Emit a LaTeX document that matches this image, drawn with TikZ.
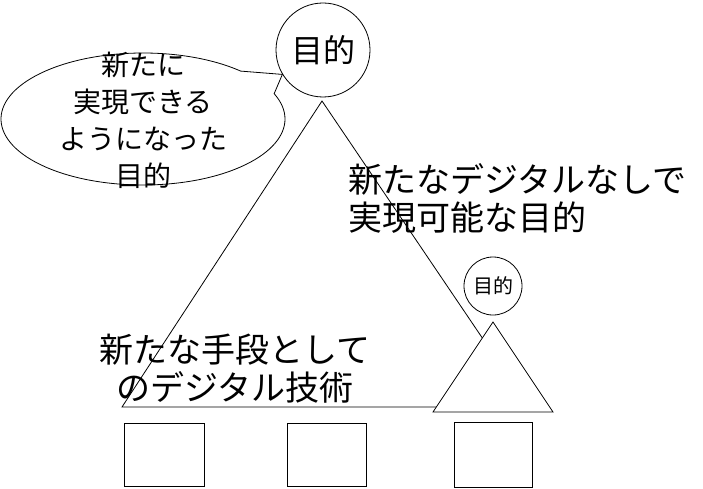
\documentclass[tikz,border=0pt]{standalone}
\usepackage{fontspec}
\setmainfont{Noto Sans CJK JP}
\usetikzlibrary{shapes.callouts}
\tikzset{>=latex}
\tikzset{
  thin line/.style={line width=.8pt},
  big text/.style={font=\fontsize{34}{38}\selectfont, inner sep=0pt},
  box/.style={draw, thin line, minimum width=80, minimum height=63, inner sep=0pt}
}

\begin{document}
\begin{tikzpicture}[x=1pt,y=-1pt]
                \useasboundingbox (0,0) rectangle (703,489);
                % big triangle
                \coordinate (top) at (322,101);
                \coordinate (left) at (122,407);
                \coordinate (right) at (529,407);
                \draw[thin line] (left) -- (top) -- (right) -- cycle;
                % small triangle
                \coordinate (stop) at (493,322);
                \coordinate (sleft) at (433,412);
                \coordinate (sright) at (553,412);
                \draw[thin line, fill=white] (sleft) -- (stop) -- (sright) -- cycle;
                \node[draw, thin line, circle, minimum size=94, inner sep=0pt,
                  font=\fontsize{32}{36}\selectfont] (goal) at (323,50) {目的};
                \node[draw, thin line, circle, minimum size=58, inner sep=0pt,
                  font=\fontsize{20}{24}\selectfont] (smallgoal) at (493,286) {目的};
                \node[draw, thin line, ellipse callout, minimum width=284, minimum height=132,
                  callout absolute pointer={(goal.211)}, callout pointer arc=24] (bubble) at (143,119) {};
                \node[align=center, inner sep=0pt, font=\fontsize{28}{37}\selectfont]
                  (bubbletext) at (143,120) {新たに\\実現できる\\ようになった\\目的};
                \node[big text, align=left, anchor=west] (purpose) at (348,198)
                  {新たなデジタルなしで\\実現可能な目的};
                \node[big text, align=center] (means) at (235,369)
                  {新たな手段として\\のデジタル技術};
                \node[box] (box1) at (164,454.5) {};
                \node[box, minimum width=79] (box2) at (326.5,454.5) {};
                \node[box, minimum width=78, minimum height=65] (box3) at (493,454.5) {};
            \end{tikzpicture}
\end{document}
